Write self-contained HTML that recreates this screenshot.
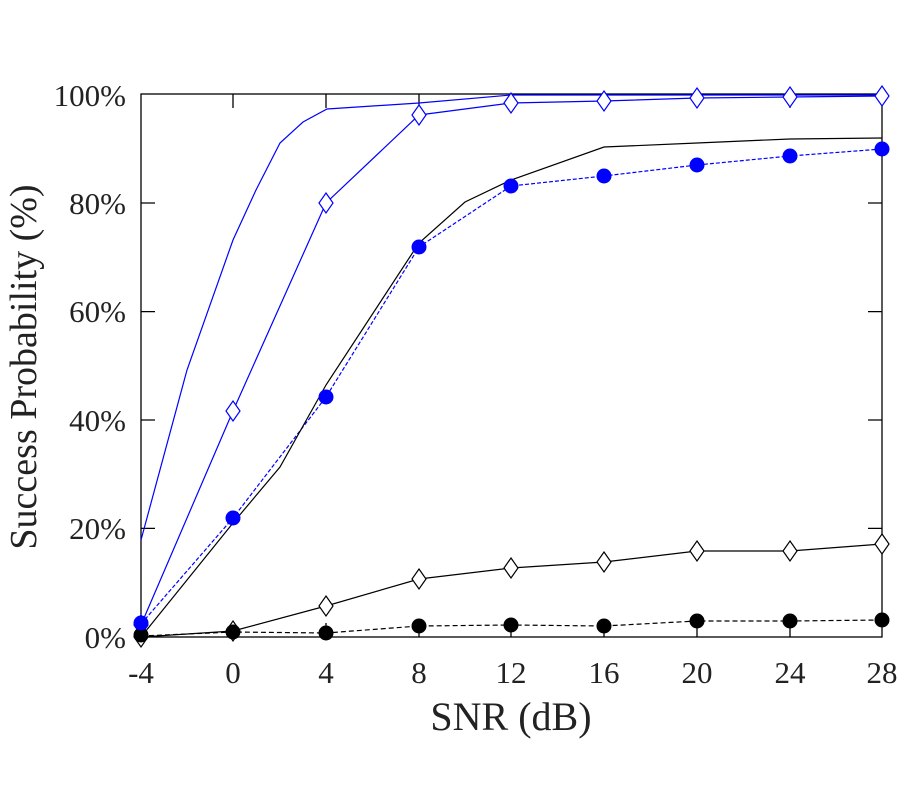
<!DOCTYPE html>
<html><head><meta charset="utf-8"><style>body{margin:0;background:#fff}svg{display:block}text{font-family:"Liberation Serif",serif;fill:#222}</style></head><body>
<svg width="900" height="800" viewBox="0 0 900 800" xmlns="http://www.w3.org/2000/svg">
<rect width="900" height="800" fill="#fff"/>
<g stroke="#000" stroke-width="1.3" fill="none">
<rect x="141" y="94" width="741" height="543"/>
<path d="M233,637v-14M326,637v-14M419,637v-14M511,637v-14M604,637v-14M697,637v-14M790,637v-14
M233,94v14M326,94v14M419,94v14M511,94v14M604,94v14M697,94v14M790,94v14
M141,528.4h14M141,420h14M141,311.6h14M141,203h14M868,528.4h14M868,420h14M868,311.6h14M868,203h14"/>
</g>
<g font-size="31" text-anchor="middle">
<text x="141" y="683">-4</text><text x="233" y="683">0</text><text x="326" y="683">4</text><text x="419" y="683">8</text><text x="511" y="683">12</text><text x="604" y="683">16</text><text x="697" y="683">20</text><text x="790" y="683">24</text><text x="882" y="683">28</text>
</g>
<g font-size="31" text-anchor="end">
<text x="126" y="648">0%</text><text x="126" y="539">20%</text><text x="126" y="431">40%</text><text x="126" y="322">60%</text><text x="126" y="214">80%</text><text x="126" y="106">100%</text>
</g>
<text x="511" y="730" font-size="40" text-anchor="middle">SNR (dB)</text>
<text transform="translate(36,367) rotate(-90)" font-size="38" text-anchor="middle">Success Probability (%)</text>
<g fill="none" stroke-width="1.2">
<polyline stroke="#00f" points="141,540 187,370 233,240 256,190 280,143 303,122 327,109 419,103 511,95 882,95"/>
<polyline stroke="#00f" points="141,625 233,411 326,203 419,115 511,103 604,101 697,98 790,97 882,96"/>
<polyline stroke="#00f" stroke-dasharray="4,2" points="141,624 233,518 326,397 419,247 511,186 604,176 697,165 790,156 882,149"/>
<polyline stroke="#000" points="141,637 233,523 280,467 326,385 419,243 465,202 511,180 604,147 697,143 790,139 882,138"/>
<polyline stroke="#000" points="141,637 233,631 326,606 419,579 511,568 604,562 697,551 790,551 882,544"/>
<polyline stroke="#000" stroke-dasharray="5,3" points="141,636 233,632 326,633 419,626 511,625 604,626 697,621 790,621 882,620"/>
</g>
<g fill="#fff" stroke="#00f" stroke-width="1.2">
<path d="M141,615l7,10l-7,10l-7,-10zM233,401l7,10l-7,10l-7,-10zM326,193l7,10l-7,10l-7,-10zM419,105l7,10l-7,10l-7,-10zM511,93l7,10l-7,10l-7,-10zM604,91l7,10l-7,10l-7,-10zM697,88l7,10l-7,10l-7,-10zM790,87l7,10l-7,10l-7,-10zM882,86l7,10l-7,10l-7,-10z"/>
</g>
<g fill="#fff" stroke="#000" stroke-width="1.2">
<path d="M141,627l7,10l-7,10l-7,-10zM233,621l7,10l-7,10l-7,-10zM326,596l7,10l-7,10l-7,-10zM419,569l7,10l-7,10l-7,-10zM511,558l7,10l-7,10l-7,-10zM604,552l7,10l-7,10l-7,-10zM697,541l7,10l-7,10l-7,-10zM790,541l7,10l-7,10l-7,-10zM882,534l7,10l-7,10l-7,-10z"/>
</g>
<g fill="#000">
<circle cx="141" cy="635" r="7.5"/><circle cx="233" cy="632" r="7.5"/><circle cx="326" cy="633" r="7.5"/><circle cx="419" cy="626" r="7.5"/><circle cx="511" cy="625" r="7.5"/><circle cx="604" cy="626" r="7.5"/><circle cx="697" cy="621" r="7.5"/><circle cx="790" cy="621" r="7.5"/><circle cx="882" cy="620" r="7.5"/>
</g>
<g fill="#00f">
<circle cx="141" cy="623" r="7.5"/><circle cx="233" cy="518" r="7.5"/><circle cx="326" cy="397" r="7.5"/><circle cx="419" cy="247" r="7.5"/><circle cx="511" cy="186" r="7.5"/><circle cx="604" cy="176" r="7.5"/><circle cx="697" cy="165" r="7.5"/><circle cx="790" cy="156" r="7.5"/><circle cx="882" cy="149" r="7.5"/>
</g>
</svg>
</body></html>
